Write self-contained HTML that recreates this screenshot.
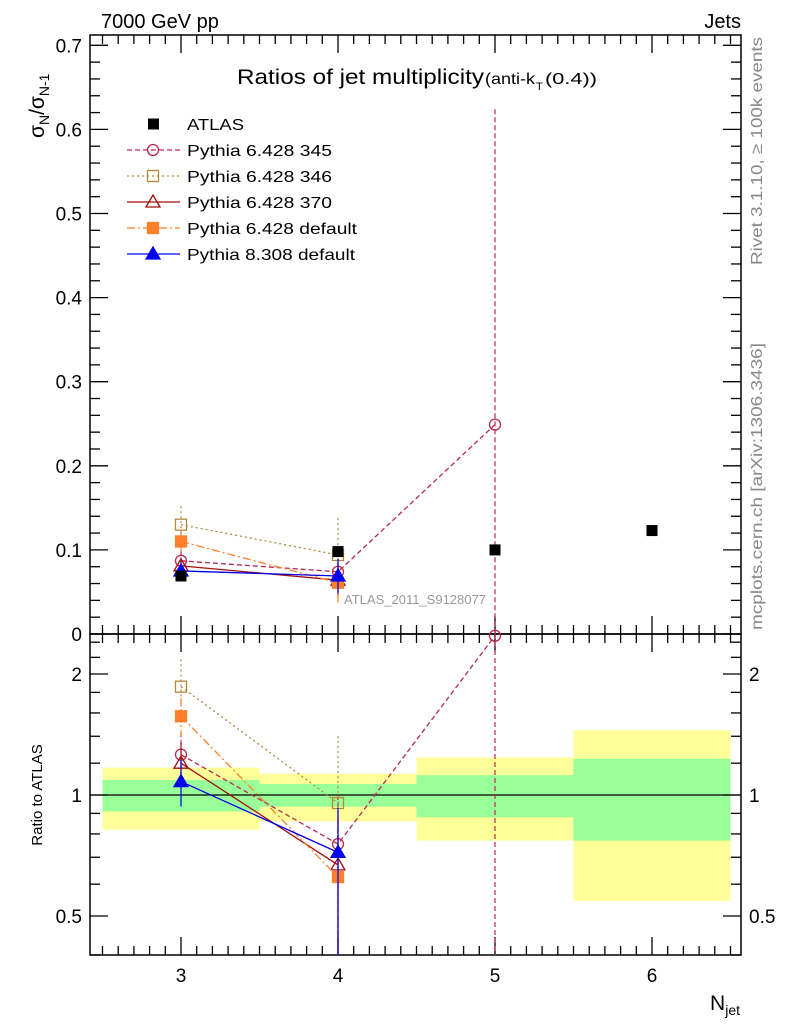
<!DOCTYPE html>
<html><head><meta charset="utf-8"><style>
body{margin:0;background:#fff;}
svg{display:block;font-family:"Liberation Sans",sans-serif;}
</style></head><body>
<svg id="c" width="786" height="1024" viewBox="0 0 786 1024"></svg>
<script>
const nJet=[3,4,5,6];
const atlas=[0.069,0.098,0.100,0.123];
const p345=[0.087,0.074,0.249];
const p346=[0.130,0.094];
const p370=[0.081,0.064];
const p6def=[0.110,0.061];
const p8=[0.075,0.069];
const r345=[1.26,0.755,2.49];
const r346=[1.86,0.955];
const r370=[1.2,0.67];
const r6def=[1.57,0.625];
const r8=[1.08,0.72];
const bandYlo=[0.82,0.86,0.77,0.545];
const bandYhi=[1.17,1.13,1.24,1.45];
const bandGlo=[0.91,0.935,0.88,0.77];
const bandGhi=[1.09,1.065,1.12,1.23];
const yTicks=[0,0.1,0.2,0.3,0.4,0.5,0.6,0.7];
const rTicks=[0.5,1,2];
const xTicks=[3,4,5,6];

const svg=document.getElementById('c');
const NS='http://www.w3.org/2000/svg';
const L=90,R=741,T=35,M=634,B=955;
const X=v=>181+(v-3)*157;
const Y=v=>634-v*841;
const RY=v=>795-Math.log2(v)*121;
function el(tag,a,txt){const e=document.createElementNS(NS,tag);for(const k in a)e.setAttribute(k,a[k]);if(txt!==undefined)e.textContent=txt;svg.appendChild(e);return e;}

for(let i=0;i<4;i++){
 const x0=X(nJet[i]-0.5),x1=X(nJet[i]+0.5);
 let b=el('rect',{x:x0,y:RY(bandYhi[i]),width:x1-x0,height:RY(bandYlo[i])-RY(bandYhi[i]),fill:'#ffff99'});
 
 
 let g=el('rect',{x:x0,y:RY(bandGhi[i]),width:x1-x0,height:RY(bandGlo[i])-RY(bandGhi[i]),fill:'#99ff99'});
 
 
}
el('line',{x1:L,x2:R,y1:RY(1),y2:RY(1),stroke:'#000','stroke-width':1.2});

el('rect',{x:L,y:T,width:R-L,height:M-T,fill:'none',stroke:'#000','stroke-width':1.5});
el('rect',{x:L,y:M,width:R-L,height:B-M,fill:'none',stroke:'#000','stroke-width':1.5});

for(let v=0;v<=0.7001;v+=0.02){const y=Y(v);const maj=Math.abs(v*10-Math.round(v*10))<1e-6;const l=maj?18:10;
 el('line',{x1:L,x2:L+l,y1:y,y2:y,stroke:'#000','stroke-width':1.3});el('line',{x1:R,x2:R-l,y1:y,y2:y,stroke:'#000','stroke-width':1.3});}
yTicks.forEach(v=>{const t=el('text',{x:L-8,y:Y(v)+7,'font-size':19,'text-anchor':'end'},v===0?'0':v.toFixed(1));
 });
for(let v=2.5;v<=6.55;v+=0.1){const x=X(v);if(x<L||x>R)continue;const maj=Math.abs(v-Math.round(v))<1e-6;const l=maj?18:9;
 [M,B].forEach(yb=>{el('line',{x1:x,x2:x,y1:yb,y2:yb-l,stroke:'#000','stroke-width':1.3});});
 [T,M].forEach(yt=>{el('line',{x1:x,x2:x,y1:yt,y2:yt+l,stroke:'#000','stroke-width':1.3});});}
xTicks.forEach(v=>{const t=el('text',{x:X(v),y:982,'font-size':19,'text-anchor':'middle'},String(v));
 });
[0.4,0.6,0.7,0.8,0.9,1.2,1.4,1.6,1.8,2.2,2.4].forEach(v=>{const y=RY(v);if(y<M||y>B)return;
 el('line',{x1:L,x2:L+10,y1:y,y2:y,stroke:'#000','stroke-width':1.3});el('line',{x1:R,x2:R-10,y1:y,y2:y,stroke:'#000','stroke-width':1.3});});
rTicks.forEach(v=>{const y=RY(v);el('line',{x1:L,x2:L+18,y1:y,y2:y,stroke:'#000','stroke-width':1.3});el('line',{x1:R,x2:R-18,y1:y,y2:y,stroke:'#000','stroke-width':1.3});
 const t=el('text',{x:L-8,y:y+7,'font-size':19,'text-anchor':'end'},String(v));
 const t2=el('text',{x:R+8,y:y+7,'font-size':19},String(v));});

const series=[
 {n:'pythia-6428-345',v:p345,r:r345,c:'#b8284e',d:'5,3',m:'circle',f:'none',err:0.012},
 {n:'pythia-6428-346',v:p346,r:r346,c:'#b08a3c',d:'2,3',m:'square',f:'none',err:0.022},
 {n:'pythia-6428-370',v:p370,r:r370,c:'#a50d0d',d:'',m:'triangle',f:'none',err:0.01},
 {n:'pythia-6428-default',v:p6def,r:r6def,c:'#ff7f2a',d:'8,3,2,3',m:'square',f:'#ff7f2a',err:0.012},
 {n:'pythia-8308-default',v:p8,r:r8,c:'#0000ee',d:'',m:'triangle',f:'#0000ee',err:0.01}];
function marker(m,x,y,c,f){
 if(m==='circle')return el('circle',{cx:x,cy:y,r:5.5,fill:f,stroke:c,'stroke-width':1.3});
 if(m==='square')return el('rect',{x:x-5.5,y:y-5.5,width:11,height:11,fill:f,stroke:c,'stroke-width':1.3});
 return el('polygon',{points:`${x},${y-7} ${x-7},${y+5} ${x+7},${y+5}`,fill:f,stroke:c,'stroke-width':1.3});}
series.forEach(s=>{
 const pts=s.v.map((v,i)=>X(nJet[i])+','+Y(v)).join(' ');
 const l=el('polyline',{points:pts,fill:'none',stroke:s.c,'stroke-width':1.3,'stroke-dasharray':s.d});
 
 const rp=s.r.map((v,i)=>X(nJet[i])+','+RY(v)).join(' ');
 const rl=el('polyline',{points:rp,fill:'none',stroke:s.c,'stroke-width':1.3,'stroke-dasharray':s.d});
 
 s.v.forEach((v,i)=>{const x=X(nJet[i]);let e=s.err*(i===1?2:1);if(i===2)e=0.375;
  el('line',{x1:x,x2:x,y1:Y(v+e),y2:Math.min(Y(Math.max(v-e,0)),M),stroke:s.c,'stroke-width':1.2,'stroke-dasharray':s.d});
  const mk=marker(s.m,x,Y(v),s.c,s.f);});
 s.r.forEach((v,i)=>{const x=X(nJet[i]);const e=s.err/s.v[i]*v*(i+1);
  el('line',{x1:x,x2:x,y1:Math.max(RY(v+e),M),y2:(i===0?RY(Math.max(v-e,0.41)):B),stroke:s.c,'stroke-width':1.2,'stroke-dasharray':s.d});
  const mk=marker(s.m,x,RY(v),s.c,s.f);});
});
atlas.forEach((v,i)=>{const x=X(nJet[i]);const p=el('rect',{x:x-5.5,y:Y(v)-5.5,width:11,height:11,fill:'#000'});
 });

const leg=[['ATLAS','#000','', 'sq', '#000'],['Pythia 6.428 345',series[0].c,series[0].d,'circle','none'],['Pythia 6.428 346',series[1].c,series[1].d,'square','none'],
 ['Pythia 6.428 370',series[2].c,'','triangle','none'],['Pythia 6.428 default',series[3].c,series[3].d,'square',series[3].f],['Pythia 8.308 default',series[4].c,'','triangle',series[4].f]];
const legW=[57,145,145,145,170,168];
leg.forEach((g,i)=>{const y=124+i*26;
 if(i>0)el('line',{x1:127,x2:180,y1:y,y2:y,stroke:g[1],'stroke-width':1.3,'stroke-dasharray':g[2]});
 if(g[3]==='sq')el('rect',{x:148,y:y-5.5,width:11,height:11,fill:'#000'});else marker(g[3],153,y,g[1],g[4]);
 const t=el('text',{x:187,y:y+6,'font-size':16,textLength:legW[i],lengthAdjust:'spacingAndGlyphs'},g[0]);});

function tx(a,s,n){const t=el('text',a,s);return t;}
tx({x:101,y:28,'font-size':20},'7000 GeV pp','header-left');
tx({x:741,y:28,'font-size':20,'text-anchor':'end'},'Jets','header-right');
tx({x:237,y:84,'font-size':21,textLength:247,lengthAdjust:'spacingAndGlyphs'},'Ratios of jet multiplicity','chart-title');
tx({x:485,y:84,'font-size':16,textLength:50,lengthAdjust:'spacingAndGlyphs'},'(anti-k','title-suffix');
tx({x:536,y:90,'font-size':11},'T','title-sub');
tx({x:545,y:84,'font-size':16,textLength:52,lengthAdjust:'spacingAndGlyphs'},'(0.4))','title-suffix2');
tx({x:415,y:604,'font-size':13,fill:'#999','text-anchor':'middle'},'ATLAS_2011_S9128077','analysis-label');
tx({x:740,y:1010,'font-size':21,'text-anchor':'end'},'N','x-axis-title').innerHTML='N<tspan font-size="14" dy="5">jet</tspan>';
const yt=tx({transform:'translate(44,138) rotate(-90)','font-size':21,'text-anchor':'start'},'','y-axis-title');
yt.innerHTML='σ<tspan font-size="14" dy="5">N</tspan><tspan dy="-5">/σ</tspan><tspan font-size="14" dy="5">N-1</tspan>';
tx({transform:'translate(42,795) rotate(-90)','font-size':15,'text-anchor':'middle'},'Ratio to ATLAS','ratio-axis-title');
tx({transform:'translate(762,265) rotate(-90)','font-size':16,fill:'#888',textLength:228,lengthAdjust:'spacingAndGlyphs'},'Rivet 3.1.10, ≥ 100k events','rivet-label');
tx({transform:'translate(762,630) rotate(-90)','font-size':16,fill:'#888',textLength:287,lengthAdjust:'spacingAndGlyphs'},'mcplots.cern.ch [arXiv:1306.3436]','mcplots-label');
</script>
</body></html>
